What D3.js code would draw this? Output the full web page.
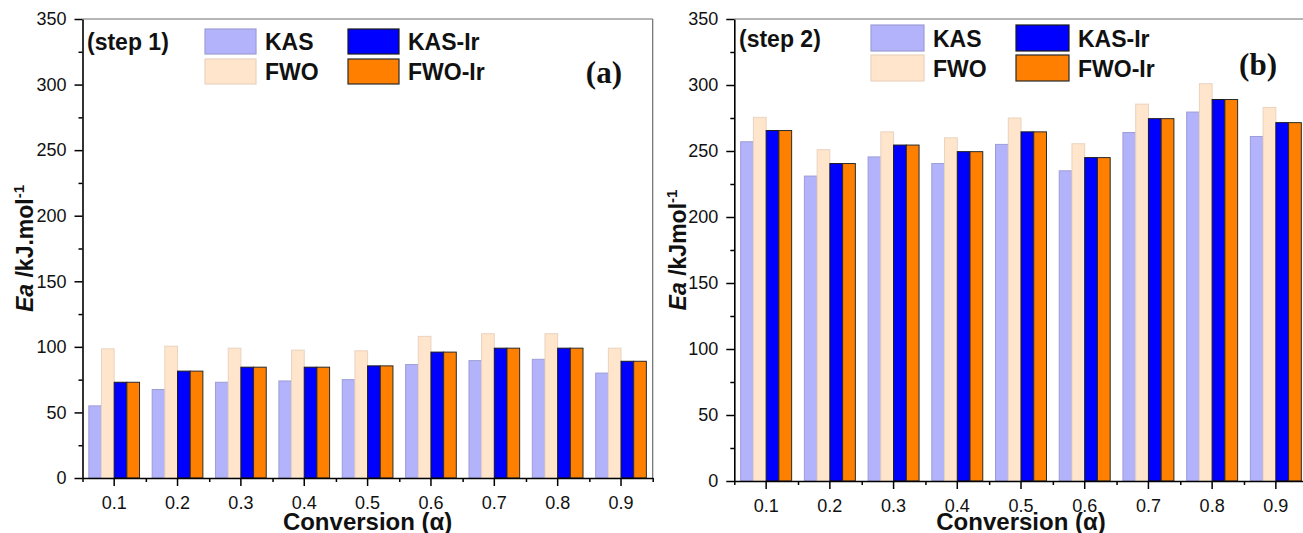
<!DOCTYPE html>
<html>
<head>
<meta charset="utf-8">
<script src="https://cdn.jsdelivr.net/npm/d3@7"></script>
<style>
  html, body { margin: 0; padding: 0; background: #fff; }
  svg { display: block; font-family: "Liberation Sans", Arial, sans-serif; }
</style>
</head>
<body>
<svg id="chart" width="1303" height="533"></svg>
<script>
// ---------- data ----------
const categories = ["0.1", "0.2", "0.3", "0.4", "0.5", "0.6", "0.7", "0.8", "0.9"];
const seriesNames = ["KAS", "FWO", "KAS-Ir", "FWO-Ir"];
const yTickValues = [0, 50, 100, 150, 200, 250, 300, 350];

// step 1 (panel a)
const step1KAS   = [55, 67.5, 73, 74, 75, 86.5, 89.5, 90.5, 80];
const step1FWO   = [98.5, 100.5, 99, 97.5, 97, 108, 110, 110, 99];
const step1KASIr = [73, 81.5, 84.5, 84.5, 85.5, 96, 99, 99, 89];
const step1FWOIr = [73, 81.5, 84.5, 84.5, 85.5, 96, 99, 99, 89];

// step 2 (panel b)
const step2KAS   = [257, 231, 245.5, 240.5, 255, 235, 264, 279.5, 261];
const step2FWO   = [275.5, 251, 264.5, 260, 275, 255.5, 285.5, 301, 283];
const step2KASIr = [265.5, 240.5, 254.5, 249.5, 264.5, 245, 274.5, 289, 271.5];
const step2FWOIr = [265.5, 240.5, 254.5, 249.5, 264.5, 245, 274.5, 289, 271.5];

const fills   = { "KAS": "#b3b3fb", "FWO": "#ffe5cc", "KAS-Ir": "#0000ff", "FWO-Ir": "#ff8000" };
const strokes = { "KAS": "#9d9dd6", "FWO": "#e9d3bf", "KAS-Ir": "#1a1a1a", "FWO-Ir": "#2a2a2a" };

// ---------- layout ----------
const panels = [
  {
    series: [step1KAS, step1FWO, step1KASIr, step1FWOIr],
    left: 82.5, right: 652.7, top: 19, bottom: 478,
    step: "(step 1)", stepX: 87, stepY: 50,
    letter: "(a)", letterX: 622, letterY: 83,
    legX1: 205, legX2: 348, legY1: 29, legY2: 59, swW: 51, swH: 25,
    yTitleMain: " /kJ.mol", yTitleX: 33, showRight: true
  },
  {
    series: [step2KAS, step2FWO, step2KASIr, step2FWOIr],
    left: 734.3, right: 1307.7, top: 19, bottom: 481,
    step: "(step 2)", stepX: 739, stepY: 47,
    letter: "(b)", letterX: 1277, letterY: 75,
    legX1: 871, legX2: 1016, legY1: 25, legY2: 55, swW: 53, swH: 26,
    yTitleMain: " /kJmol", yTitleX: 686, showRight: true
  }
];

const svg = d3.select("#chart");
const SANS = "'Liberation Sans', Arial, sans-serif";
const SERIF = "'Liberation Serif', 'Times New Roman', serif";

panels.forEach(p => {
  const g = svg.append("g");

  const x = d3.scaleBand().domain(categories).range([p.left, p.right]).paddingInner(0).paddingOuter(0);
  const xs = d3.scaleBand().domain(seriesNames)
      .range([x.bandwidth() * 0.1, x.bandwidth() * 0.9]).padding(0);
  const xMinor = d3.scaleLinear().domain([0, categories.length]).range([p.left, p.right]);
  const y = d3.scaleLinear().domain([0, 350]).range([p.bottom, p.top]);

  // bars
  seriesNames.forEach((s, si) => {
    g.append("g").selectAll("rect")
      .data(p.series[si])
      .join("rect")
      .attr("x", (d, i) => x(categories[i]) + xs(s))
      .attr("y", d => y(d))
      .attr("width", xs.bandwidth())
      .attr("height", d => y(0) - y(d))
      .attr("fill", fills[s])
      .attr("stroke", strokes[s])
      .attr("stroke-width", 1);
  });

  // frame top / right
  g.append("line").attr("x1", p.left).attr("x2", p.right).attr("y1", y(350)).attr("y2", y(350))
    .attr("stroke", "#6e6e6e").attr("stroke-width", 1.2);
  if (p.showRight) {
    g.append("line").attr("x1", p.right).attr("x2", p.right).attr("y1", y(350)).attr("y2", y(0))
      .attr("stroke", "#6e6e6e").attr("stroke-width", 1.2);
  }

  // y axis: minor then major
  g.append("g").attr("transform", `translate(${p.left},0)`)
    .call(d3.axisLeft(y).tickValues(d3.range(25, 350, 50)).tickSize(4).tickFormat(""))
    .call(a => a.select(".domain").remove())
    .call(a => a.selectAll("line").attr("stroke", "#000").attr("stroke-width", 1.5));
  g.append("g").attr("transform", `translate(${p.left},0)`)
    .call(d3.axisLeft(y).tickValues(yTickValues).tickSize(8).tickSizeOuter(0).tickPadding(8))
    .call(a => a.select(".domain").attr("stroke", "#000").attr("stroke-width", 1.6))
    .call(a => a.selectAll("line").attr("stroke", "#000").attr("stroke-width", 1.5))
    .call(a => a.selectAll("text").style("font-size", "18px").style("font-family", SANS).attr("fill", "#111"));

  // x axis: minor then major
  g.append("g").attr("transform", `translate(0,${p.bottom})`)
    .call(d3.axisBottom(xMinor).tickValues(d3.range(0, categories.length + 1)).tickSize(4).tickFormat(""))
    .call(a => a.select(".domain").remove())
    .call(a => a.selectAll("line").attr("stroke", "#000").attr("stroke-width", 1.5));
  g.append("g").attr("transform", `translate(0,${p.bottom})`)
    .call(d3.axisBottom(x).tickSize(8).tickSizeOuter(0).tickPadding(10))
    .call(a => a.select(".domain").attr("stroke", "#000").attr("stroke-width", 1.6))
    .call(a => a.selectAll("line").attr("stroke", "#000").attr("stroke-width", 1.5))
    .call(a => a.selectAll("text").style("font-size", "18px").style("font-family", SANS).attr("fill", "#111"));

  // x title
  g.append("text")
    .attr("x", (p.left + p.right) / 2).attr("y", 530)
    .attr("text-anchor", "middle")
    .style("font-family", SANS).style("font-size", "24px").style("font-weight", "bold")
    .attr("fill", "#111")
    .text("Conversion (α)");

  // y title
  const yt = g.append("text")
    .attr("transform", `translate(${p.yTitleX},${(p.top + p.bottom) / 2}) rotate(-90)`)
    .attr("text-anchor", "middle")
    .style("font-family", SANS).style("font-size", "23px").style("font-weight", "bold")
    .attr("fill", "#111");
  yt.append("tspan").style("font-style", "italic").text("Ea");
  yt.append("tspan").text(p.yTitleMain);
  yt.append("tspan").style("font-size", "15px").attr("dy", -9).text("-1");

  // step label
  g.append("text").attr("x", p.stepX).attr("y", p.stepY)
    .style("font-family", SANS).style("font-size", "23px").style("font-weight", "bold")
    .attr("fill", "#111").text(p.step);

  // panel letter
  g.append("text").attr("x", p.letterX).attr("y", p.letterY).attr("text-anchor", "end")
    .style("font-family", SERIF).style("font-size", "31px").style("font-weight", "bold")
    .attr("fill", "#111").text(p.letter);

  // legend
  const legPos = [
    [p.legX1, p.legY1], [p.legX1, p.legY2], [p.legX2, p.legY1], [p.legX2, p.legY2]
  ];
  seriesNames.forEach((s, si) => {
    const [lx, ly] = legPos[si];
    g.append("rect").attr("x", lx).attr("y", ly).attr("width", p.swW).attr("height", p.swH)
      .attr("fill", fills[s]).attr("stroke", strokes[s]).attr("stroke-width", 1.2);
    g.append("text").attr("x", lx + p.swW + 9).attr("y", ly + p.swH - 4)
      .style("font-family", SANS).style("font-size", "23px").style("font-weight", "bold")
      .attr("fill", "#111").text(s);
  });
});
</script>
</body>
</html>
